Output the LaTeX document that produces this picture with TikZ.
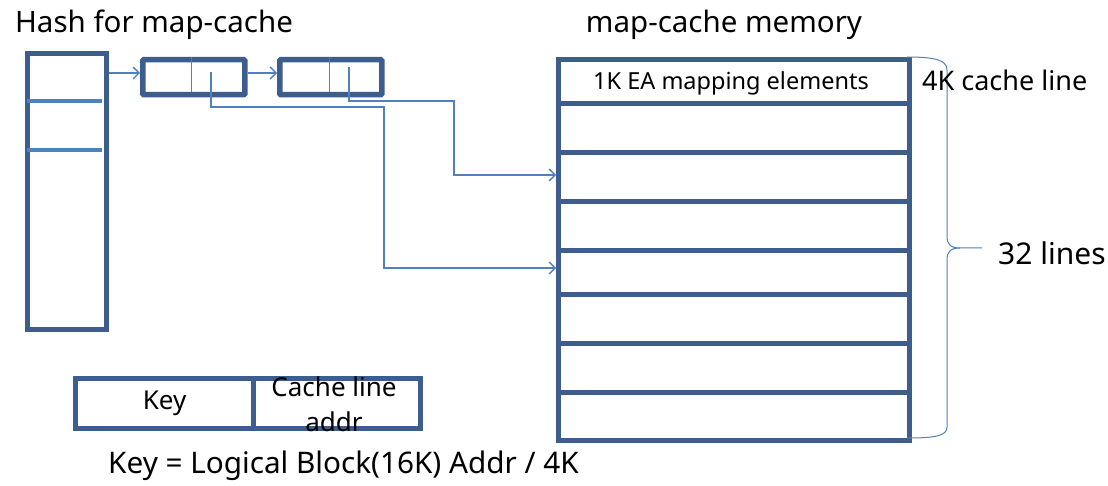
\documentclass[tikz,border=0pt]{standalone}
\usepackage{fontspec}
\setmainfont{Noto Sans}
\usetikzlibrary{arrows.meta}
\definecolor{boxblue}{RGB}{61,94,140}
\definecolor{linkblue}{RGB}{79,129,189}
\begin{document}
\begin{tikzpicture}[x=1pt,y=-1pt,
  frame/.style={draw=boxblue, line width=5pt, inner sep=0pt, anchor=north west, rectangle},
  listbox/.style={frame, line width=5.5pt, rounded corners=1pt, minimum width=102pt, minimum height=35pt},
  rowbox/.style={frame, minimum width=351pt},
  keycell/.style={frame, minimum height=50pt},
  divider/.style={draw=linkblue, line width=4.5pt},
  thindiv/.style={draw=linkblue, line width=1pt},
  link/.style={draw=linkblue, line width=1.3pt, -{Straight Barb[length=6pt,width=12pt]}},
  wire/.style={draw=linkblue, line width=1.2pt},
  txt/.style={inner sep=0pt, text=black}
]
\useasboundingbox (0,0) rectangle (1108,486);
\fill[white] (0,0) rectangle (1108,486);

% titles
\node[txt, font=\fontsize{29.5}{34}\selectfont] (t1) at (154,25) {Hash for map-cache};
\node[txt, font=\fontsize{29.5}{34}\selectfont] (t2) at (724,25) {map-cache memory};

% hash column
\node[frame, minimum width=79pt, minimum height=276pt] (hash) at (25,51) {};
\draw[divider] (27,101) -- (102,101);
\draw[divider] (27,150) -- (102,150);

% list boxes
\node[listbox] (b1) at (140,57) {};
\node[listbox] (b2) at (277,57) {};
\draw[thindiv] (191,57) -- (191,92);
\draw[thindiv] (329,57) -- (329,92);
\coordinate (p1) at (211,72);
\coordinate (p2) at (349,67);

% memory rows
\node[rowbox, minimum height=44pt] (r1) at (556,57) {};
\node[rowbox, minimum height=49pt] (r2) at (556,101) {};
\node[rowbox, minimum height=49pt] (r3) at (556,150) {};
\node[rowbox, minimum height=49pt] (r4) at (556,199) {};
\node[rowbox, minimum height=44pt] (r5) at (556,248) {};
\node[rowbox, minimum height=49pt] (r6) at (556,292) {};
\node[rowbox, minimum height=49pt] (r7) at (556,341) {};
\node[rowbox, minimum height=48pt] (r8) at (556,390) {};
\node[txt, font=\fontsize{23.5}{28}\selectfont] (ea) at (731,83) {1K EA mapping elements};

% links
\draw[link] (hash.east |- 0,73) -- (b1.west |- 0,73);
\draw[link] (b1.east |- 0,73) -- (b2.west |- 0,73);
\draw[link] (p1) |- (384,107) |- (r5.west |- 0,268);
\draw[link] (p2) |- (454,101) |- (r3.west |- 0,175);

% brace
\draw[wire, line width=1pt] (907,57) .. controls (935,57) and (947,60) .. (947,70)
  -- (947,236) .. controls (947,244) and (950,248) .. (960,248) -- (982,248);
\draw[wire, line width=1pt] (960,248) .. controls (950,248) and (947,252) .. (947,260)
  -- (947,427) .. controls (947,436) and (935,438) .. (907,438);
\node[txt, anchor=west, font=\fontsize{27}{32}\selectfont] (cl) at (922,80) {4K cache line};
\node[txt, anchor=west, font=\fontsize{30}{36}\selectfont] (lines) at (998,253) {32 lines};

% key box
\node[keycell, minimum width=178pt] (k1) at (73,376) {};
\node[keycell, minimum width=167pt] (k2) at (251,376) {};
\node[txt, font=\fontsize{26}{31}\selectfont] (keyt) at (k1.center) {Key};
\node[txt, font=\fontsize{26}{31}\selectfont] (cla) at (334,387) {Cache line};
\node[txt, font=\fontsize{26}{31}\selectfont] (addr) at (334,422) {addr};

% formula
\node[txt, anchor=west, font=\fontsize{29.7}{34}\selectfont] (formula) at (108,466) {Key = Logical Block(16K) Addr / 4K};
\end{tikzpicture}
\end{document}
